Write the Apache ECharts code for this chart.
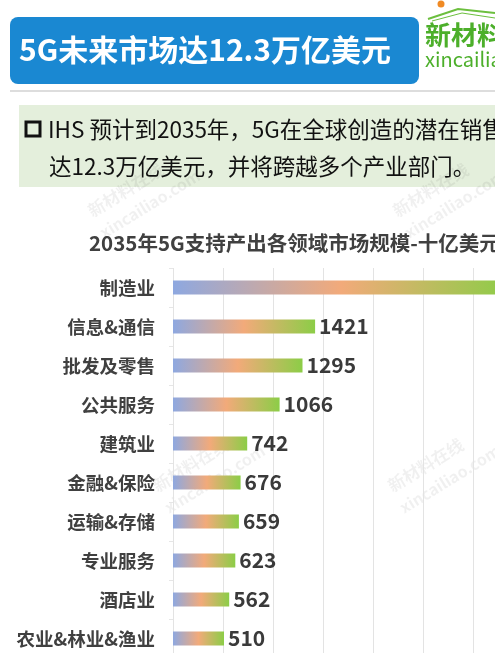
<!DOCTYPE html>
<html><head><meta charset="utf-8">
<script src="https://cdn.jsdelivr.net/npm/echarts@6/dist/echarts.min.js"></script>
<style>html,body{margin:0;padding:0;background:#fff;}#c{width:495px;height:653px;}</style>
</head><body><div id="c"></div>
<script>
const categories = ['制造业','信息&通信','批发及零售','公共服务','建筑业','金融&保险','运输&存储','专业服务','酒店业','农业&林业&渔业'];
const values = [3364,1421,1295,1066,742,676,659,623,562,510];
const headerTitle = '5G未来市场达12.3万亿美元';
const noteLine1 = 'IHS 预计到2035年，5G在全球创造的潜在销售';
const noteLine2 = '达12.3万亿美元，并将跨越多个产业部门。';
const chartTitle = '2035年5G支持产出各领域市场规模-十亿美元';

const FONT = '"Noto Sans CJK SC","Noto Sans",sans-serif';
const chart = echarts.init(document.getElementById('c'), null, {renderer:'canvas'});

function wm(x, y) {
  return [
    {type:'text', x:x, y:y, rotation:0.55, z:0, style:{text:'新材料在线', font:'bold 17px '+FONT, fill:'rgba(0,0,0,0.06)'}},
    {type:'text', x:x+12, y:y+22, rotation:0.55, z:0, style:{text:'xincailiao.com', font:'bold 16px '+FONT, fill:'rgba(0,0,0,0.06)'}}
  ];
}

chart.setOption({
  backgroundColor:'#ffffff',
  animation:false,
  textStyle:{fontFamily:FONT},
  graphic:[
    {type:'rect', shape:{x:10,y:17,width:409,height:67,r:8}, style:{fill:'#1a88d2'}},
    {type:'text', x:19, y:50, style:{text:headerTitle, font:'bold 30px '+FONT, fill:'#ffffff', textVerticalAlign:'middle'}},
    {type:'circle', shape:{cx:441,cy:4,r:3.5}, style:{fill:'#f08a24'}},
    {type:'polyline', shape:{points:[[428,19],[458,9],[495,13]]}, style:{stroke:'#6cbf3e', lineWidth:2, fill:null}},
    {type:'polyline', shape:{points:[[432,21],[462,13],[495,18]]}, style:{stroke:'#6cbf3e', lineWidth:1, fill:null}},
    {type:'text', x:425, y:35, style:{text:'新材料在线', font:'bold 26px '+FONT, fill:'#4caf2a', textVerticalAlign:'middle'}},
    {type:'text', x:425, y:59, style:{text:'xincailiao', font:'20px '+FONT, fill:'#4caf2a', textVerticalAlign:'middle'}},
    {type:'rect', shape:{x:10,y:90,width:485,height:2}, style:{fill:'#dddddd'}},
    {type:'rect', shape:{x:19,y:105,width:476,height:82}, style:{fill:'#e4efdc'}},
    {type:'rect', shape:{x:26,y:122,width:14,height:14}, style:{fill:'none', stroke:'#111111', lineWidth:3}},
    {type:'text', x:48, y:129, style:{text:noteLine1, font:'22.5px '+FONT, fill:'#111111', textVerticalAlign:'middle'}},
    {type:'text', x:49, y:166, style:{text:noteLine2, font:'22.5px '+FONT, fill:'#111111', textVerticalAlign:'middle'}},
    {type:'text', x:89, y:243, style:{text:chartTitle, font:'bold 20.5px '+FONT, fill:'#404040', textVerticalAlign:'middle'}}
  ].concat(wm(85,205), wm(390,205), wm(150,480), wm(385,480)),
  grid:{left:173, top:268, width:350, height:390, containLabel:false, outerBoundsMode:'none'},
  xAxis:{
    type:'value', min:0, max:3500, interval:500,
    axisLabel:{show:false}, axisLine:{show:false}, axisTick:{show:false},
    splitLine:{show:true, lineStyle:{color:'#e3e3e3', width:1}}
  },
  yAxis:{
    type:'category', data:categories, inverse:true,
    axisLine:{show:false},
    axisTick:{show:true, length:4, lineStyle:{color:'#e6e6e6'}},
    axisLabel:{fontSize:18.5, fontWeight:'bold', color:'#404040', margin:18, fontFamily:FONT}
  },
  series:[{
    type:'bar', data:values, barWidth:14,
    itemStyle:{color:new echarts.graphic.LinearGradient(0,0,1,0,[
      {offset:0,color:'#8ea8e0'},
      {offset:0.5,color:'#f2aa7a'},
      {offset:1,color:'#8ccd47'}
    ])},
    label:{show:true, position:'right', distance:4, fontSize:21, fontWeight:'bold', color:'#3a3a3a', fontFamily:FONT}
  }]
});
</script></body></html>
